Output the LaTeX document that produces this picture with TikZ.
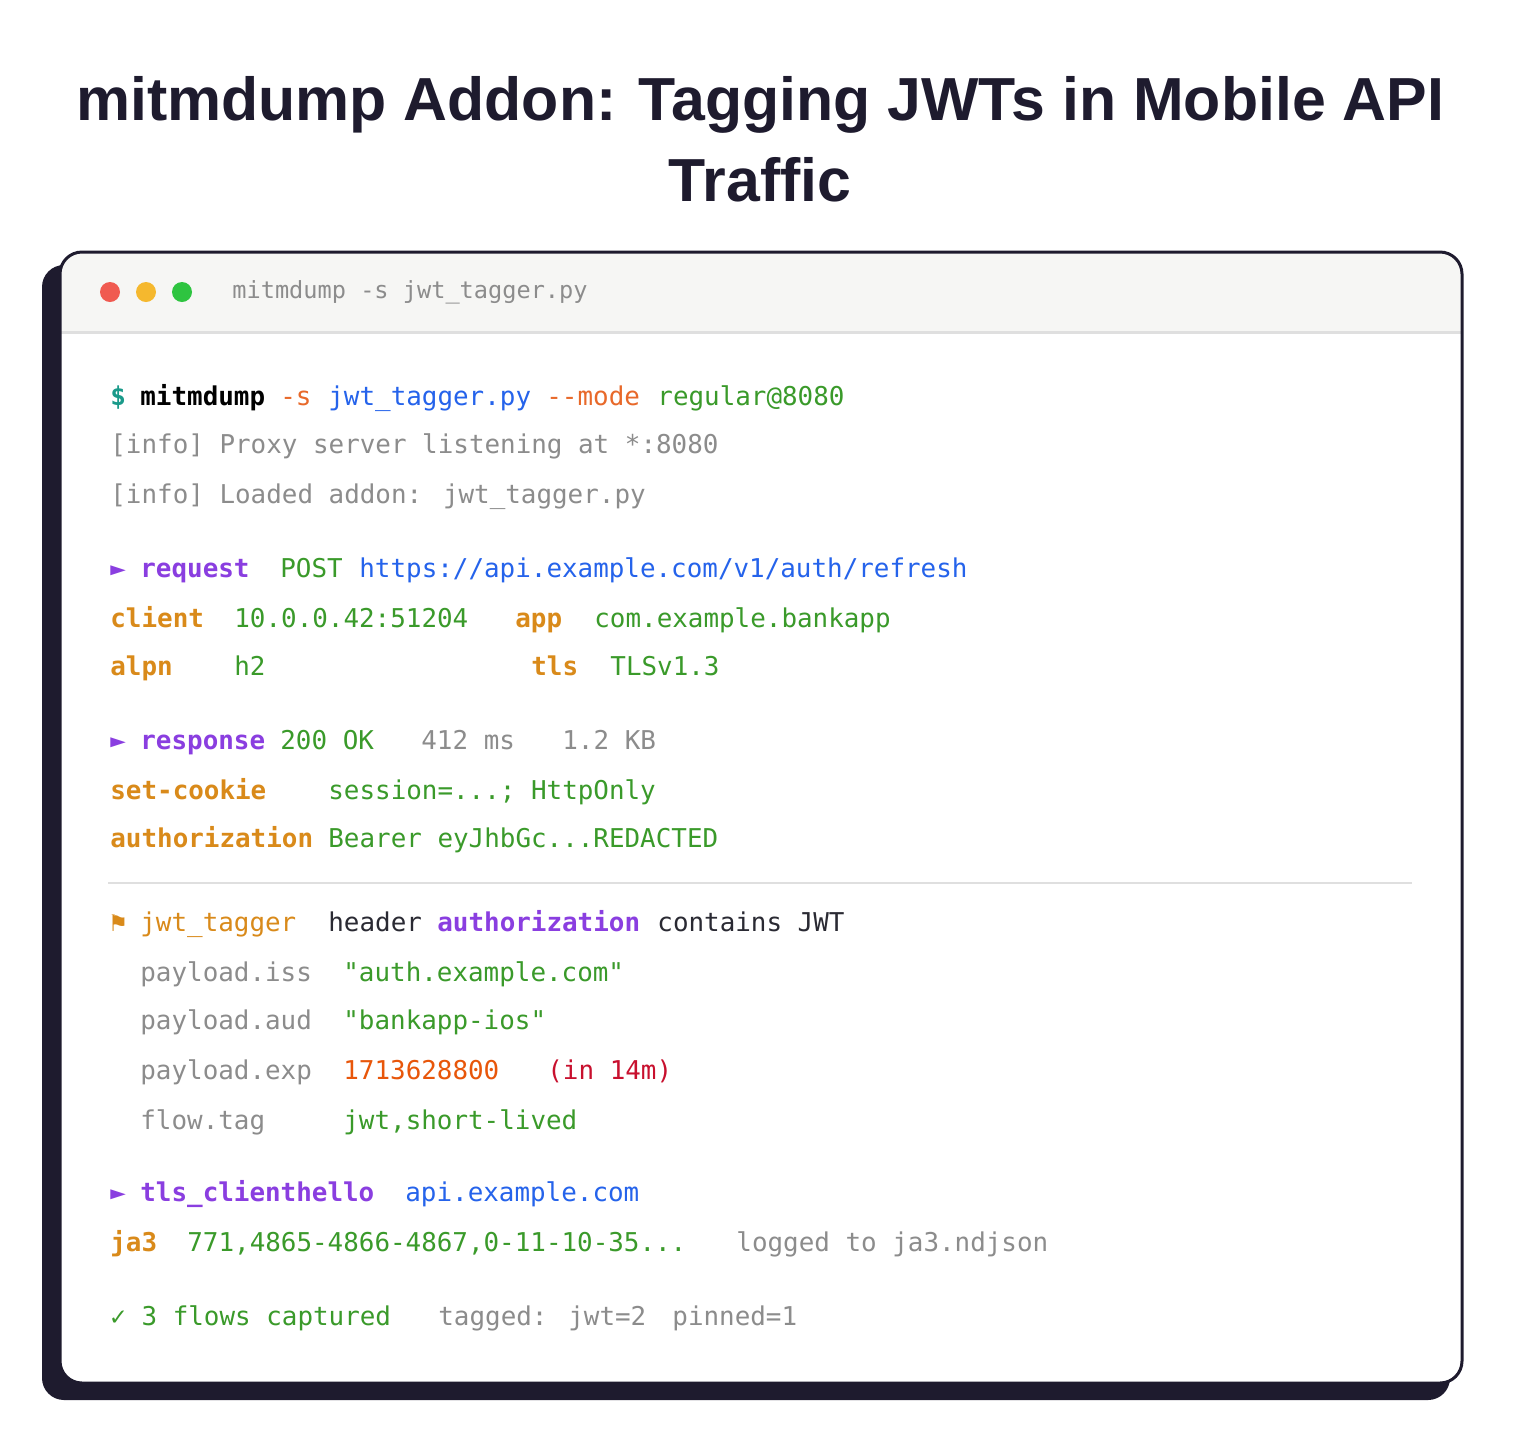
\documentclass[tikz,border=0pt]{standalone}
\usepackage{fontspec}
\setmainfont{Liberation Sans}
\newfontfamily\termfont{DejaVu Sans Mono}
\definecolor{frame}{HTML}{1E1B2E}
\definecolor{barbg}{HTML}{F6F6F4}
\definecolor{tteal}{HTML}{1A9A8A}
\definecolor{torange}{HTML}{E8692A}
\definecolor{tblue}{HTML}{2563EB}
\definecolor{tgreen}{HTML}{3A9A2A}
\definecolor{tgray}{HTML}{8C8C8C}
\definecolor{tpurple}{HTML}{8A3EE0}
\definecolor{tamber}{HTML}{D98A1A}
\definecolor{tred}{HTML}{C8102E}
\definecolor{tnum}{HTML}{E8560A}
\definecolor{tdark}{HTML}{2A2A33}
\begin{document}
\begin{tikzpicture}[x=0.5pt,y=-0.5pt,
    term/.style={anchor=base west, inner sep=0pt, font=\termfont\fontsize{12.95pt}{15pt}\selectfont},
    key/.style={term, text=tamber, font=\termfont\bfseries\fontsize{12.95pt}{15pt}\selectfont},
    kw/.style={term, text=tpurple, font=\termfont\bfseries\fontsize{12.95pt}{15pt}\selectfont},
    dot/.style={circle, minimum size=10pt, inner sep=0pt}]
  \useasboundingbox (0,0) rectangle (1520,1442);
  % title
  \node[font=\bfseries\fontsize{30.4pt}{36pt}\selectfont, text=frame] (title1) at (760,105) {mitmdump Addon: Tagging JWTs in Mobile API};
  \node[font=\bfseries\fontsize{30.4pt}{36pt}\selectfont, text=frame] (title2) at (760,180) {Traffic};
  % window
  \fill[frame, rounded corners=11pt] (42,265) rectangle (1450,1400);
  \fill[white, rounded corners=11pt] (60,252) rectangle (1462,1383);
  \begin{scope}
    \clip[rounded corners=11pt] (60,252) rectangle (1462,1383);
    \fill[barbg] (60,252) rectangle (1462,332);
  \end{scope}
  \draw[gray!25, line width=1.5pt] (60,332) -- (1462,332);
  \draw[frame, line width=1.5pt, rounded corners=11pt] (60,252) rectangle (1462,1383);
  \node[dot, fill={rgb,255:red,240;green,90;blue,80}] (red) at (110,292) {};
  \node[dot, fill={rgb,255:red,245;green,184;blue,46}] (yellow) at (146,292) {};
  \node[dot, fill={rgb,255:red,46;green,196;blue,64}] (green) at (182,292) {};
  \node[term, text=tgray, anchor=west, font=\termfont\fontsize{11.8pt}{14pt}\selectfont] (bar) at (232,292) {mitmdump -s jwt\_tagger.py};
  % command
  \node[term, text=tteal, font=\termfont\bfseries\fontsize{12.95pt}{15pt}\selectfont] (prompt) at (110,405) {\$};
  \node[term, text=black, font=\termfont\bfseries\fontsize{12.95pt}{15pt}\selectfont] (cmd) at (140,405) {mitmdump};
  \node[term, text=torange] (optS) at (280,405) {-s};
  \node[term, text=tblue] (script) at (328,405) {jwt\_tagger.py};
  \node[term, text=torange] (optMode) at (546,405) {-{}-mode};
  \node[term, text=tgreen] (mode) at (657,405) {regular@8080};
  \node[term, text=tgray] (info1) at (110,453) {[info] Proxy server listening at *:8080};
  \node[term, text=tgray] (info2) at (110,503) {[info] Loaded addon: jwt\_tagger.py};
  % request
  \node[term, text=tpurple] (arr1) at (110,577) {►};
  \node[kw] (request) at (140,577) {request};
  \node[term, text=tgreen] (post) at (280,577) {POST};
  \node[term, text=tblue] (url) at (359,577) {https://api.example.com/v1/auth/refresh};
  \node[key] (client) at (110,627) {client};
  \node[term, text=tgreen] (clientV) at (234,627) {10.0.0.42:51204};
  \node[key] (app) at (515,627) {app};
  \node[term, text=tgreen] (appV) at (594,627) {com.example.bankapp};
  \node[key] (alpn) at (110,675) {alpn};
  \node[term, text=tgreen] (alpnV) at (234,675) {h2};
  \node[key] (tls) at (531,675) {tls};
  \node[term, text=tgreen] (tlsV) at (610,675) {TLSv1.3};
  % response
  \node[term, text=tpurple] (arr2) at (110,749) {►};
  \node[kw] (response) at (140,749) {response};
  \node[term, text=tgreen] (status) at (280,749) {200 OK};
  \node[term, text=tgray] (time) at (421,749) {412 ms};
  \node[term, text=tgray] (size) at (562,749) {1.2 KB};
  \node[key] (cookie) at (110,799) {set-cookie};
  \node[term, text=tgreen] (cookieV) at (328,799) {session=...; HttpOnly};
  \node[key] (auth) at (110,847) {authorization};
  \node[term, text=tgreen] (authV) at (328,847) {Bearer eyJhbGc...REDACTED};
  \draw[gray!25, line width=1pt] (108,883) -- (1412,883);
  % tagger
  \node[term, text=tamber] (flag) at (110,931) {⚑};
  \node[term, text=tamber] (tagger) at (140,931) {jwt\_tagger};
  \node[term, text=tdark] (hdr) at (328,931) {header};
  \node[kw] (hdrName) at (437,931) {authorization};
  \node[term, text=tdark] (contains) at (657,931) {contains JWT};
  \node[term, text=tgray] (iss) at (140,981) {payload.iss};
  \node[term, text=tgreen] (issV) at (343,981) {"auth.example.com"};
  \node[term, text=tgray] (aud) at (140,1029) {payload.aud};
  \node[term, text=tgreen] (audV) at (343,1029) {"bankapp-ios"};
  \node[term, text=tgray] (exp) at (140,1079) {payload.exp};
  \node[term, text=tnum] (expV) at (343,1079) {1713628800};
  \node[term, text=tred] (expIn) at (547,1079) {(in 14m)};
  \node[term, text=tgray] (ftag) at (140,1129) {flow.tag};
  \node[term, text=tgreen] (ftagV) at (343,1129) {jwt,short-lived};
  % client hello
  \node[term, text=tpurple] (arr3) at (110,1201) {►};
  \node[kw] (hello) at (140,1201) {tls\_clienthello};
  \node[term, text=tblue] (host) at (405,1201) {api.example.com};
  \node[key] (ja3) at (110,1251) {ja3};
  \node[term, text=tgreen] (ja3V) at (187,1251) {771,4865-4866-4867,0-11-10-35...};
  \node[term, text=tgray] (logged) at (736,1251) {logged to ja3.ndjson};
  % summary
  \node[term, text=tgreen] (done) at (110,1325) {✓ 3 flows captured};
  \node[term, text=tgray] (tagged) at (438,1325) {tagged: jwt=2};
  \node[term, text=tgray] (pinned) at (672,1325) {pinned=1};
\end{tikzpicture}
\end{document}
